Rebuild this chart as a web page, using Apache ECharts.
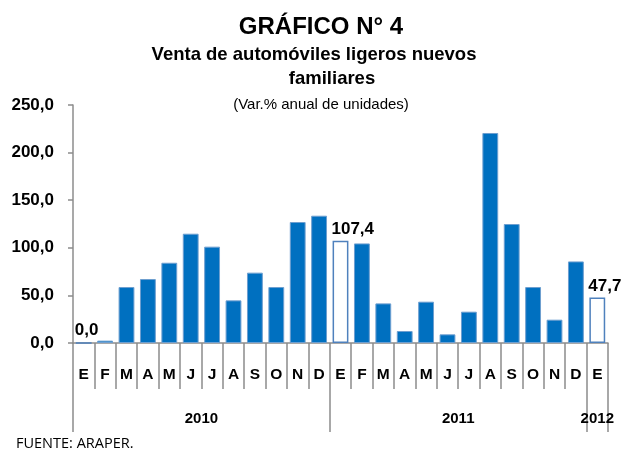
<!DOCTYPE html>
<html>
<head>
<meta charset="utf-8">
<script src="https://cdn.jsdelivr.net/npm/echarts@6/dist/echarts.min.js"></script>
<style>
  html, body { margin: 0; padding: 0; background: #fff; }
  #grafico { width: 621px; height: 450px; }
</style>
</head>
<body>
<div id="grafico"></div>
<script>
// meses ene-2010 .. ene-2012
const meses = ["E","F","M","A","M","J","J","A","S","O","N","D",
               "E","F","M","A","M","J","J","A","S","O","N","D","E"];
const variacion = [0.0, 2.5, 58.8, 67.2, 84.3, 114.8, 101.2, 44.8, 73.9, 58.8, 127.1, 133.7,
                   107.4, 104.6, 41.6, 12.6, 43.4, 9.1, 32.9, 220.6, 125.0, 58.8, 24.5, 85.7, 47.7];
const destacados = [0, 12, 24]; // barras huecas con etiqueta
const anios = ["2010", "2011", "2012"];
const mesesPorAnio = [12, 12, 1];
const ticksY = [0, 50, 100, 150, 200, 250];

const coma = (v) => Number(v).toFixed(1).replace(".", ",");

// eje de años: medias posiciones entre limites de mes (boundaryGap false)
const slotsAnio = new Array(meses.length * 2 + 1).fill("");
const cortesAnio = [0];
let acum = 0;
anios.forEach((a, i) => {
  slotsAnio[acum * 2 + mesesPorAnio[i]] = a;
  acum += mesesPorAnio[i];
  cortesAnio.push(acum * 2);
});

const chart = echarts.init(document.getElementById("grafico"));

const datosBarras = variacion.map((v, i) => {
  if (destacados.includes(i)) {
    return {
      value: v,
      itemStyle: { color: "#ffffff", borderColor: "#4F81BD", borderWidth: 1.5 },
      label: {
        show: true,
        position: "top",
        align: "left",
        offset: [-9, 0],
        distance: 3,
        formatter: (p) => coma(p.value),
        fontFamily: "Liberation Sans",
        fontWeight: "bold",
        fontSize: 17,
        color: "#000"
      }
    };
  }
  return v;
});

const option = {
  animation: false,
  title: [
    {
      text: "GRÁFICO N° 4",
      left: 316, top: 10, textAlign: "center",
      textStyle: { fontFamily: "Liberation Sans", fontWeight: "bold", fontSize: 24, color: "#000" }
    },
    {
      text: "Venta de automóviles ligeros nuevos",
      left: 309, top: 40, textAlign: "center",
      textStyle: { fontFamily: "Liberation Sans", fontWeight: "bold", fontSize: 18.5, color: "#000" }
    },
    {
      text: "familiares",
      left: 327, top: 64, textAlign: "center",
      textStyle: { fontFamily: "Liberation Sans", fontWeight: "bold", fontSize: 18.5, color: "#000" }
    },
    {
      text: "(Var.% anual de unidades)",
      left: 316, top: 92, textAlign: "center",
      textStyle: { fontFamily: "Liberation Sans", fontWeight: "normal", fontSize: 15, color: "#000" }
    },
    {
      text: "FUENTE: ARAPER.",
      left: 11, top: 431,
      textStyle: { fontFamily: "Open Sans", fontWeight: "normal", fontSize: 14.5, color: "#000" }
    }
  ],
  grid: { left: 73, right: 13, top: 105, bottom: 107 },
  xAxis: [
    {
      type: "category",
      data: meses,
      position: "bottom",
      boundaryGap: true,
      axisLine: { lineStyle: { color: "#8c8c8c", width: 1.5 } },
      axisTick: { show: true, interval: 0, length: 46, lineStyle: { color: "#8c8c8c", width: 1.5 } },
      axisLabel: {
        interval: 0, margin: 24,
        fontFamily: "Liberation Sans", fontWeight: "bold", fontSize: 15.5, color: "#000"
      }
    },
    {
      type: "category",
      data: slotsAnio,
      position: "bottom",
      boundaryGap: false,
      axisLine: { show: false },
      axisTick: {
        show: true,
        interval: (i) => cortesAnio.includes(i),
        length: 89,
        lineStyle: { color: "#8c8c8c", width: 1.5 }
      },
      axisLabel: {
        interval: 0, margin: 68,
        fontFamily: "Liberation Sans", fontWeight: "bold", fontSize: 15, color: "#000"
      }
    }
  ],
  yAxis: {
    type: "value",
    min: ticksY[0],
    max: ticksY[ticksY.length - 1],
    interval: 50,
    splitLine: { show: false },
    axisLine: { show: true, lineStyle: { color: "#8c8c8c", width: 1.5 } },
    axisTick: { show: true, length: 5, lineStyle: { color: "#8c8c8c", width: 1.5 } },
    axisLabel: {
      margin: 19,
      formatter: (v) => coma(v),
      fontFamily: "Liberation Sans", fontWeight: "bold", fontSize: 17, color: "#000"
    }
  },
  series: [
    {
      type: "bar",
      xAxisIndex: 0,
      data: datosBarras,
      barWidth: "74%",
      itemStyle: { color: "#0070C0", borderColor: "#6E9FD0", borderWidth: 1 }
    }
  ]
};

chart.setOption(option);
</script>
</body>
</html>
